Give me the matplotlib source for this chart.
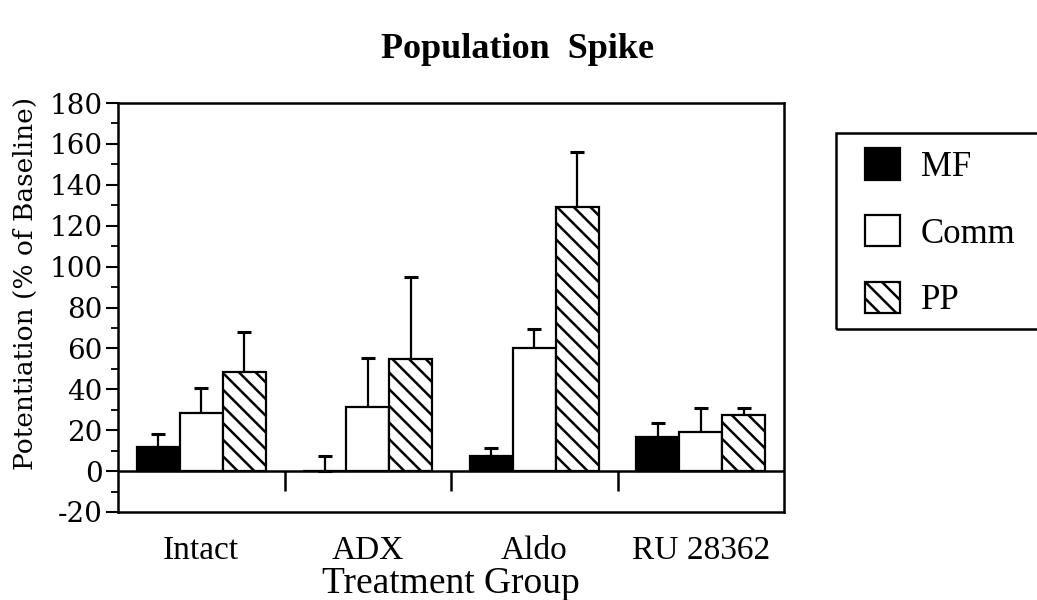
import matplotlib
matplotlib.use("Agg")
import matplotlib.pyplot as plt
import numpy as np
from matplotlib.ticker import MultipleLocator
from matplotlib.patches import Rectangle

groups = ["Intact", "ADX", "Aldo", "RU 28362"]
series = ["MF", "Comm", "PP"]
mf = [11.6, 0, 7.5, 16.8]
comm = [28.5, 31.4, 60.0, 19.2]
pp = [48.3, 54.8, 129.2, 27.4]
mf_err = [6.5, 7.5, 3.6, 6.5]
comm_err = [12.1, 23.7, 9.3, 11.9]
pp_err = [19.8, 39.9, 26.9, 3.6]

values = [mf, comm, pp]
errors = [mf_err, comm_err, pp_err]
faces = ["black", "white", "white"]
hatches = [None, None, "\\\\"]

plt.rcParams["font.family"] = ["Liberation Serif", "DejaVu Serif"]
plt.rcParams["hatch.linewidth"] = 1.8
plt.rcParams["hatch.color"] = "black"
plt.rcParams["axes.unicode_minus"] = False

fig = plt.figure(figsize=(10.37, 6), dpi=100)
ax = fig.add_axes([118/1037, 88/600, 666/1037, 409/600])

x = np.arange(len(groups)) + 0.5
w = 0.258
for i, (vals, errs) in enumerate(zip(values, errors)):
    pos = x + (i - 1) * w
    ax.bar(pos, vals, width=w, color=faces[i], edgecolor="black", linewidth=1.6,
           hatch=hatches[i], label=series[i], zorder=3)
    ax.errorbar(pos, vals, yerr=[np.zeros(len(vals)), errs], fmt="none",
                ecolor="black", elinewidth=1.6, capsize=4.8, capthick=2.2, zorder=2)

ax.axhline(0, color="black", lw=1.8, zorder=4)
ax.vlines(np.arange(1, len(groups)), -9.5, 0, color="black", lw=1.8)

ax.set_xlim(0, len(groups))
ax.set_ylim(-20, 180)
ax.yaxis.set_major_locator(MultipleLocator(20))
ax.yaxis.set_minor_locator(MultipleLocator(10))
ax.set_xticks(x)
ax.set_xticklabels(groups, fontsize=24)
ax.tick_params(axis="x", length=0, pad=17)
ax.tick_params(axis="y", which="major", direction="out", length=9, width=1.5, pad=2)
ax.tick_params(axis="y", which="minor", direction="out", length=5, width=1.3)
for lab in ax.get_yticklabels():
    lab.set_fontfamily("DejaVu Serif")
    lab.set_fontsize(20)
for s in ax.spines.values():
    s.set_linewidth(1.8)

ax.set_ylabel("Potentiation (% of Baseline)", fontsize=19, family="DejaVu Serif")
ax.yaxis.set_label_coords(-0.12, 0.56)
ax.set_xlabel("Treatment Group", fontsize=27, labelpad=0)

fig.text(0.499, 0.918, "Population  Spike", ha="center", va="center",
         fontsize=26, fontweight="bold")

leg = ax.legend(loc="upper left", bbox_to_anchor=(865/1037, 1 - 148/600),
                bbox_transform=fig.transFigure, fontsize=25,
                handlelength=1.02, handleheight=1.02, handletextpad=0.58,
                labelspacing=0.9, borderpad=0, borderaxespad=0,
                frameon=False)
for p in leg.get_patches():
    p.set_linewidth(1.6)

fig.patches.append(Rectangle((836/1037, 1 - 329/600), 0.25, 196/600,
                             transform=fig.transFigure, fill=False,
                             edgecolor="black", linewidth=1.8))

fig.savefig("out.png", dpi=100)
